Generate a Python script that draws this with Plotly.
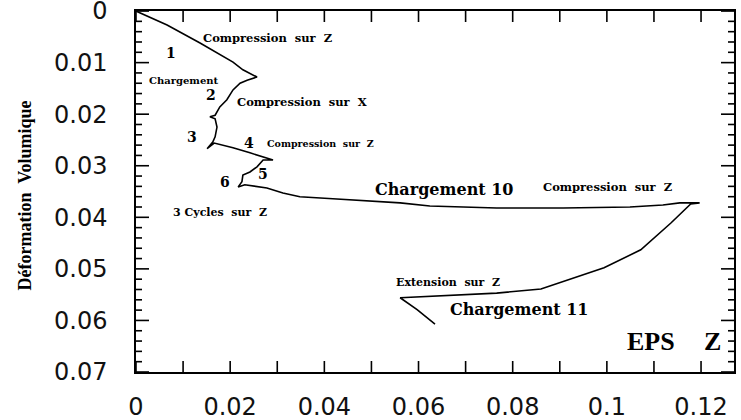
import plotly.graph_objects as go

# Path of the test (EPS Z vs volumetric strain)
eps_z = [0.0000, 0.0066, 0.0136, 0.0206, 0.0227, 0.0257,
         0.0236, 0.0221, 0.0206, 0.0193, 0.0178, 0.0168, 0.0157, 0.0168, 0.0172,
         0.0168, 0.0163, 0.0151, 0.0166,
         0.0206, 0.0242, 0.0278, 0.0291,
         0.0270, 0.0257, 0.0242, 0.0227, 0.0225, 0.0217, 0.0231,
         0.0278, 0.0312, 0.0348, 0.0418, 0.0490, 0.0561, 0.0624, 0.0766, 0.0907,
         0.1049, 0.1119, 0.1155, 0.1197,
         0.1178, 0.1136, 0.1072, 0.0994, 0.0924, 0.0860, 0.0766, 0.0624, 0.0561,
         0.0597, 0.0635]
eps_v = [0.0000, 0.0027, 0.0062, 0.0099, 0.0114, 0.0128,
         0.0134, 0.0140, 0.0153, 0.0172, 0.0186, 0.0202, 0.0205, 0.0209, 0.0225,
         0.0244, 0.0254, 0.0267, 0.0256,
         0.0265, 0.0275, 0.0285, 0.0289,
         0.0289, 0.0302, 0.0312, 0.0318, 0.0331, 0.0341, 0.0337,
         0.0343, 0.0353, 0.0360, 0.0364, 0.0368, 0.0372, 0.0378, 0.0382, 0.0382,
         0.0380, 0.0376, 0.0372, 0.0372,
         0.0374, 0.0411, 0.0463, 0.0498, 0.0519, 0.0539, 0.0547, 0.0554, 0.0556,
         0.0579, 0.0607]

x_tickvals = [0, 0.02, 0.04, 0.06, 0.08, 0.10, 0.12]
x_ticktext = ["0", "0.02", "0.04", "0.06", "0.08", "0.1", "0.12"]
x_tickmarks = [0, 0.01, 0.02, 0.03, 0.04, 0.05, 0.06, 0.07, 0.08, 0.09, 0.10,
               0.11, 0.12]
y_tickvals = [0, 0.01, 0.02, 0.03, 0.04, 0.05, 0.06, 0.07]
y_ticktext = ["0", "0.01", "0.02", "0.03", "0.04", "0.05", "0.06", "0.07"]
y_minor_marks = [round(k * 0.002, 3) for k in range(36) if k % 5 != 0]

# annotation texts
labels = [
    ("Compression\u00a0 sur\u00a0 Z", 0.0280, 0.0052, 11.5),
    ("1", 0.0074, 0.0081, 14),
    ("Chargement", 0.0102, 0.0134, 10),
    ("2", 0.0159, 0.0163, 14),
    ("Compression\u00a0 sur\u00a0 X", 0.0352, 0.0176, 11.5),
    ("3", 0.0119, 0.0244, 14),
    ("4", 0.0240, 0.0256, 14),
    ("Compression\u00a0 sur\u00a0 Z", 0.0391, 0.0256, 9.5),
    ("6", 0.0189, 0.0331, 14),
    ("5", 0.0270, 0.0316, 14),
    ("3 Cycles\u00a0 sur\u00a0 Z", 0.0178, 0.0391, 11),
    ("Chargement 10", 0.0656, 0.0347, 16),
    ("Compression\u00a0 sur\u00a0 Z", 0.1002, 0.0341, 11.5),
    ("Extension\u00a0 sur\u00a0 Z", 0.0662, 0.0527, 11),
    ("Chargement 11", 0.0815, 0.0579, 16),
]

W, H = 741, 420
ML, MR, MT, MB = 136, 7, 11, 48
X_RANGE = [0, 0.127]
Y_RANGE = [0.07, -0.00001]

fig = go.Figure()
fig.add_trace(go.Scatter(x=eps_z, y=eps_v, mode="lines",
                         line=dict(color="black", width=1.6),
                         hoverinfo="skip", showlegend=False))

for txt, ax, ay, sz in labels:
    fig.add_annotation(x=ax, y=ay, xref="x", yref="y", text="<b>" + txt + "</b>",
                       showarrow=False, xanchor="center", yanchor="middle",
                       font=dict(family="DejaVu Serif", size=sz, color="black"))

# axis name "EPS Z" written inside the frame
for txt, ax in (("EPS", 0.1093), ("Z", 0.1225)):
    fig.add_annotation(x=ax, y=0.0641, xref="x", yref="y",
                       text="<b>" + txt + "</b>", showarrow=False,
                       xanchor="center", yanchor="middle",
                       font=dict(family="Liberation Serif", size=26, color="black"))

fig.add_annotation(x=-0.185, y=0.49, xref="paper", yref="paper",
                   text="<b>Déformation\u00a0 Volumique</b>", showarrow=False,
                   textangle=-90, xanchor="center", yanchor="middle",
                   font=dict(family="Liberation Serif", size=18, color="black"))

# inside tick marks on all four sides, in data units of the axes
x_unit = (X_RANGE[1] - X_RANGE[0]) / (W - ML - MR)   # data per pixel
y_unit = (Y_RANGE[0] - Y_RANGE[1]) / (H - MT - MB)
y_lo, y_hi = Y_RANGE[0], Y_RANGE[1]
x_lo, x_hi = X_RANGE
tick_line = dict(color="black", width=1.6)
for v in x_tickmarks:
    fig.add_shape(type="line", xref="x", yref="y", x0=v, x1=v,
                  y0=y_lo, y1=y_lo - 11 * y_unit, line=tick_line)
    fig.add_shape(type="line", xref="x", yref="y", x0=v, x1=v,
                  y0=y_hi, y1=y_hi + 11 * y_unit, line=tick_line)
for marks, length in ((y_tickvals, 13), (y_minor_marks, 6)):
    for v in marks:
        fig.add_shape(type="line", xref="x", yref="y", y0=v, y1=v,
                      x0=x_lo, x1=x_lo + length * x_unit, line=tick_line)
        fig.add_shape(type="line", xref="x", yref="y", y0=v, y1=v,
                      x0=x_hi, x1=x_hi - length * x_unit, line=tick_line)

tickfont = dict(family="DejaVu Sans", size=24, color="#111")

fig.update_layout(
    width=W, height=H,
    margin=dict(l=ML, r=MR, t=MT, b=MB),
    paper_bgcolor="white", plot_bgcolor="white",
    xaxis=dict(range=X_RANGE, tickmode="array", tickvals=x_tickvals,
               ticktext=x_ticktext, automargin=False,
               showline=True, linecolor="black", linewidth=1.5, mirror=True,
               ticks="", showgrid=False, zeroline=False, tickfont=tickfont,
               ticklabeloverflow="allow", ticklabelstandoff=12),
    yaxis=dict(range=Y_RANGE, tickmode="array", tickvals=y_tickvals,
               ticktext=y_ticktext, automargin=False,
               showline=True, linecolor="black", linewidth=1.5, mirror=True,
               ticks="", showgrid=False, zeroline=False, tickfont=tickfont,
               ticklabeloverflow="allow", ticklabelstandoff=22),
)

fig.write_html("out.html", config={"displayModeBar": False},
               post_script="document.body.style.margin='0';")
